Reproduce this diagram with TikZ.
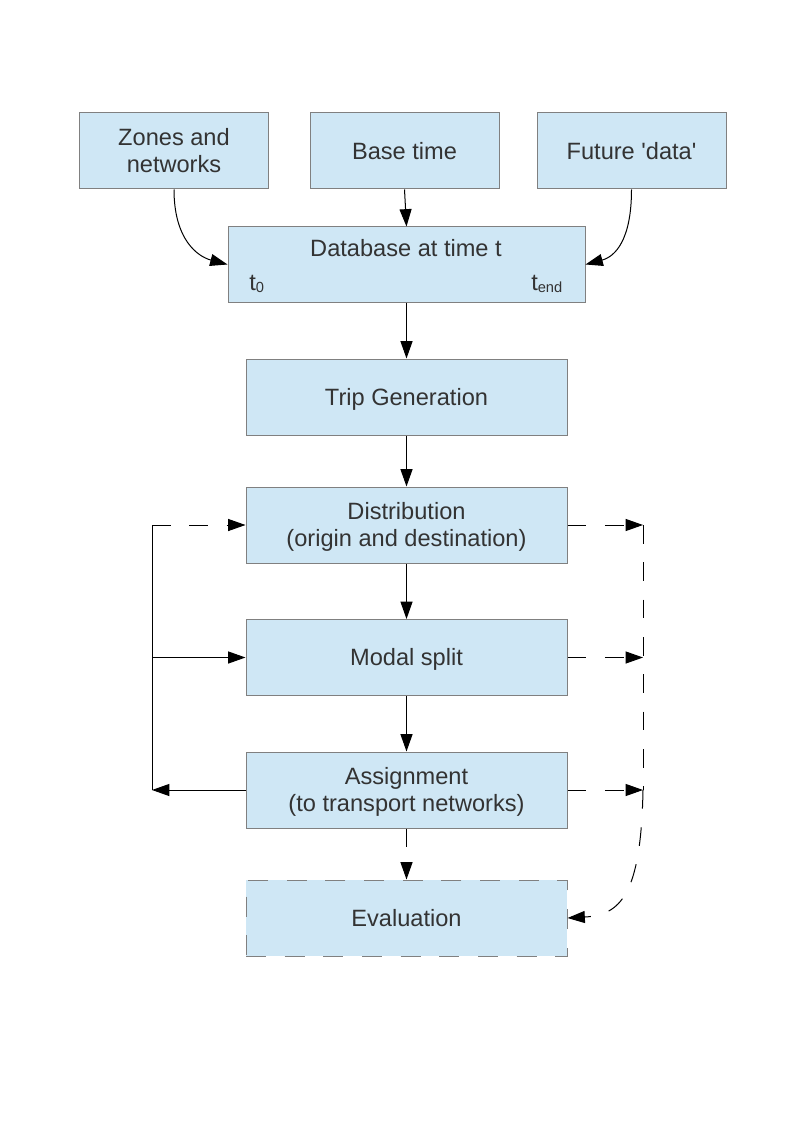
\documentclass[tikz,border=0pt]{standalone}
\usepackage{fontspec}
\setmainfont{Liberation Sans}
\usetikzlibrary{arrows.meta}
\definecolor{boxfill}{HTML}{CFE7F5}
\definecolor{boxline}{HTML}{808080}
\definecolor{txt}{HTML}{333333}
\begin{document}
\begin{tikzpicture}[x=0.75pt,y=-0.75pt,
 box/.style={draw=boxline,fill=boxfill,line width=0.75pt,inner sep=0pt,text=txt,align=center,font=\fontsize{17.7}{20.5}\selectfont,text height=16pt,text depth=3.75pt},
 twoline/.style={text height=36.5pt},
 topbox/.style={box,minimum width=141.75pt,minimum height=57pt},
 midbox/.style={box,minimum width=240.75pt,minimum height=57pt},
 lbl/.style={inner sep=0pt,text=txt,font=\fontsize{17.7}{20.5}\selectfont},
 arr/.style={-{Triangle[length=13pt,width=9pt]},line width=0.75pt,black},
 plain/.style={line width=0.75pt,black},
 dsh/.style={dash pattern=on 14pt off 14pt}]
\path[fill=white,use as bounding box] (0,0) rectangle (794,1123);
% top boxes
\node[topbox,twoline] (zones) at (174,151) {Zones and\\networks};
\node[topbox] (base) at (404.5,151) {Base time};
\node[topbox] (fut) at (631.5,151) {Future \textquotesingle data\textquotesingle};
% database
\node[box,minimum width=267.75pt,minimum height=56.25pt] (db) at (406.5,264.5) {};
\node[lbl,anchor=base] (dbtitle) at (406,257) {Database at time t};
\node[lbl,anchor=base west] (t0) at (249,290) {t\raisebox{-2pt}{\fontsize{11}{11}\selectfont 0}};
\node[lbl,anchor=base west] (tend) at (531,290) {t\raisebox{-2pt}{\fontsize{11}{11}\selectfont end}};
% chain
\node[midbox] (trip) at (406.5,397) {Trip Generation};
\node[midbox,twoline] (dist) at (406.5,525) {Distribution\\(origin and destination)};
\node[midbox] (modal) at (406.5,657.5) {Modal split};
\node[midbox,twoline] (assign) at (406.5,790) {Assignment\\(to transport networks)};
\node[midbox,dash pattern=on 15pt off 14pt] (eval) at (406.5,918) {Evaluation};
% top connectors
\draw[arr] (zones.south) .. controls +(0,50) and +(-30,-8) .. (db.west);
\draw[arr] (base.south) -- (db.north);
\draw[arr] (fut.south) .. controls +(0,50) and +(30,-8) .. (db.east);
% chain connectors
\draw[arr] (db.south) -- (trip.north);
\draw[arr] (trip.south) -- (dist.north);
\draw[arr] (dist.south) -- (modal.north);
\draw[arr] (modal.south) -- (assign.north);
\draw[arr,dsh] (assign.south) -- (eval.north);
% left loop
\coordinate (lx) at (152,0);
\draw[plain] (lx |- dist.west) -- (lx |- assign.west);
\draw[arr,dsh] (lx |- dist.west) -- (dist.west);
\draw[arr] (lx |- modal.west) -- (modal.west);
\draw[arr] (assign.west) -- (lx |- assign.west);
% right loop
\coordinate (rx) at (643,0);
\draw[arr,dsh] (dist.east) -- (rx |- dist.east);
\draw[arr,dsh] (modal.east) -- (rx |- modal.east);
\draw[arr,dsh] (assign.east) -- (rx |- assign.east);
\draw[plain,dsh] (rx |- dist.east) -- (rx |- assign.east);
\draw[arr,dsh] (rx |- assign.east) .. controls +(-2,105) and +(53,-3) .. (eval.east);
\end{tikzpicture}
\end{document}
